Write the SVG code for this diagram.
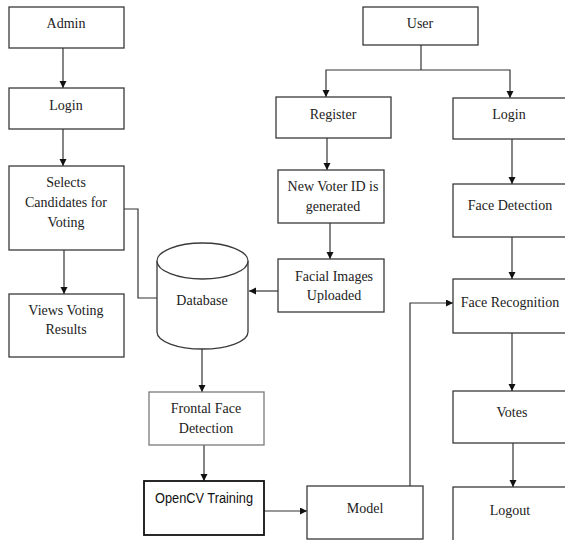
<svg xmlns="http://www.w3.org/2000/svg" width="565" height="540" viewBox="0 0 565 540">
<style>
.box{fill:#fff;stroke:#3a3a3a;stroke-width:1.3}
.gray{stroke:#7a7a7a}
.thick{stroke:#111;stroke-width:1.8}
.t{font-family:"Liberation Serif","Times New Roman",serif;font-size:14px;fill:#222;text-anchor:middle}
.s{font-family:"Liberation Sans",Arial,sans-serif;font-size:14px;fill:#111;text-anchor:middle}
.c{fill:none;stroke:#333;stroke-width:1.2}
.a{marker-end:url(#arr)}
</style>
<defs>
<marker id="arr" markerUnits="userSpaceOnUse" markerWidth="8" markerHeight="8" refX="7" refY="3.5" orient="auto">
<path d="M0,0 L7,3.5 L0,7 z" fill="#111"/>
</marker>
</defs>
<rect width="565" height="540" fill="#fff"/>
<g id="connectors">
<line class="c a" x1="63" y1="48" x2="63" y2="88"/>
<line class="c a" x1="63" y1="129" x2="63" y2="166"/>
<line class="c a" x1="64" y1="250" x2="64" y2="294"/>
<polyline class="c" points="124,209 138,209 138,298 157,298"/>
<polyline class="c" points="421,45 421,70"/>
<polyline class="c a" points="421,70 326,70 326,97"/>
<polyline class="c a" points="421,70 510,70 510,98"/>
<line class="c a" x1="327" y1="138" x2="327" y2="170"/>
<line class="c a" x1="330" y1="223" x2="330" y2="259"/>
<line class="c a" x1="278" y1="291" x2="249" y2="291"/>
<line class="c a" x1="202" y1="349" x2="202" y2="392"/>
<line class="c a" x1="204" y1="445" x2="204" y2="481"/>
<line class="c a" x1="264" y1="511" x2="307" y2="511"/>
<polyline class="c a" points="410,486 410,303 453,303"/>
<line class="c a" x1="512" y1="139" x2="512" y2="184"/>
<line class="c a" x1="512" y1="237" x2="512" y2="279"/>
<line class="c a" x1="512" y1="333" x2="512" y2="391"/>
<line class="c a" x1="513" y1="443" x2="513" y2="487"/>
</g>
<g id="admin"><rect class="box" x="9" y="7" width="115" height="41"/><text class="t" x="66" y="28">Admin</text></g>
<g id="admin-login"><rect class="box" x="9" y="88" width="115" height="41"/><text class="t" x="66" y="110">Login</text></g>
<g id="selects"><rect class="box" x="9" y="166" width="115" height="84"/><text class="t" x="66" y="187">Selects</text><text class="t" x="66" y="207">Candidates for</text><text class="t" x="66" y="227">Voting</text></g>
<g id="views"><rect class="box" x="9" y="294" width="115" height="63"/><text class="t" x="66" y="315">Views Voting</text><text class="t" x="66" y="334">Results</text></g>
<g id="user"><rect class="box" x="363" y="7" width="115" height="38"/><text class="t" x="420" y="28">User</text></g>
<g id="register"><rect class="box" x="276" y="97" width="115" height="41"/><text class="t" x="333" y="119">Register</text></g>
<g id="user-login"><rect class="box" x="453" y="98" width="120" height="41"/><text class="t" x="509" y="119">Login</text></g>
<g id="new-voter"><rect class="box" x="278" y="170" width="106" height="53"/><text class="t" x="333" y="191">New Voter ID is</text><text class="t" x="333" y="211">generated</text></g>
<g id="facial"><rect class="box" x="278" y="259" width="106" height="53"/><text class="t" x="334" y="281">Facial Images</text><text class="t" x="334" y="300">Uploaded</text></g>
<g id="database">
<path class="box" d="M157,261 L157,332 A45.5,17 0 0 0 248,332 L248,261"/>
<ellipse class="box" cx="202.5" cy="261" rx="45.5" ry="18"/>
<text class="t" x="202" y="305">Database</text>
</g>
<g id="face-detection"><rect class="box" x="453" y="184" width="120" height="53"/><text class="t" x="510" y="210">Face Detection</text></g>
<g id="face-recognition"><rect class="box" x="453" y="279" width="120" height="54"/><text class="t" x="510" y="307">Face Recognition</text></g>
<g id="votes"><rect class="box" x="453" y="391" width="120" height="52"/><text class="t" x="512" y="417">Votes</text></g>
<g id="logout"><rect class="box" x="453" y="487" width="120" height="60"/><text class="t" x="510" y="515">Logout</text></g>
<g id="frontal"><rect class="box gray" x="149" y="392" width="115" height="53"/><text class="t" x="206" y="413">Frontal Face</text><text class="t" x="206" y="433">Detection</text></g>
<g id="opencv"><rect class="box thick" x="144" y="481" width="120" height="54"/><text class="s" x="204" y="503" textLength="98" lengthAdjust="spacingAndGlyphs">OpenCV Training</text></g>
<g id="model"><rect class="box" x="307" y="486" width="116" height="53"/><text class="t" x="365" y="513">Model</text></g>
</svg>
